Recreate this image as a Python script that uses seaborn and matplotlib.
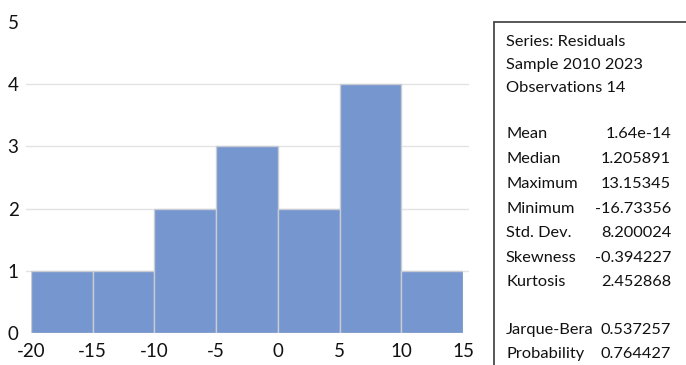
import matplotlib
matplotlib.use("Agg")
import matplotlib.pyplot as plt
import seaborn as sns
import numpy as np
from matplotlib.lines import Line2D

sns.set_theme(style="white")
plt.rcParams['font.family'] = ['Lato', 'DejaVu Sans']

bin_edges = [-20, -15, -10, -5, 0, 5, 10, 15]
counts = [1, 1, 2, 3, 2, 4, 1]
x_ticks = [-20, -15, -10, -5, 0, 5, 10, 15]
y_ticks = [0, 1, 2, 3, 4, 5]

stat_header = ["Series: Residuals", "Sample 2010 2023", "Observations 14"]
stat_names = ["Mean", "Median", "Maximum", "Minimum", "Std. Dev.", "Skewness", "Kurtosis"]
stat_values = ["1.64e-14", "1.205891", "13.15345", "-16.73356", "8.200024", "-0.394227", "2.452868"]
test_names = ["Jarque-Bera", "Probability"]
test_values = ["0.537257", "0.764427"]

W, H = 686, 365
fig = plt.figure(figsize=(W / 100, H / 100), dpi=100)
ax = fig.add_axes([31 / W, 32 / H, 432 / W, 311 / H])

centers = [(a + b) / 2 for a, b in zip(bin_edges[:-1], bin_edges[1:])]
for yv in [1, 2, 3, 4]:
    ax.axhline(yv, xmin=-5 / 432, xmax=1 + 5 / 432, color="#e3e3e3", lw=1.0, clip_on=False, zorder=0)
sns.histplot(x=centers, weights=counts, bins=bin_edges, ax=ax,
             color="#7596ce", alpha=1.0, edgecolor="#c9ccd2", linewidth=1.0, zorder=2)

ax.set_xlim(-20, 15)
ax.set_ylim(0, 5)
ax.set_xticks(x_ticks)
ax.set_xticklabels([str(v) for v in x_ticks])
ax.set_yticks(y_ticks)
ax.set_yticklabels([str(v) for v in y_ticks])
ax.tick_params(axis="x", length=0, pad=7, labelsize=13.5, colors="#111111")
ax.tick_params(axis="y", length=0, pad=9, labelsize=13.5, colors="#111111")
ax.set_xlabel("")
ax.set_ylabel("")
for s in ax.spines.values():
    s.set_visible(False)
ax.grid(False)

# stats box border
fig.add_artist(Line2D([494 / W, 494 / W], [0, 1 - 22 / H], transform=fig.transFigure, color="#4a4a4a", lw=1.3))
fig.add_artist(Line2D([494 / W, 1.0], [1 - 22 / H, 1 - 22 / H], transform=fig.transFigure, color="#4a4a4a", lw=1.3))

fs = 11.8
def put(xpx, ypx, s, ha="left"):
    fig.text(xpx / W, 1 - ypx / H, s, ha=ha, va="center", fontsize=fs, color="#111111")

ys_header = [42, 65, 88]
for yp, s in zip(ys_header, stat_header):
    put(506, yp, s)
ys_stats = [134, 159, 184, 209, 233, 258, 282]
for yp, n, v in zip(ys_stats, stat_names, stat_values):
    put(506, yp, n)
    put(671, yp, v, ha="right")
ys_test = [330, 354]
for yp, n, v in zip(ys_test, test_names, test_values):
    put(506, yp, n)
    put(671, yp, v, ha="right")

fig.savefig("out.png", dpi=100)
